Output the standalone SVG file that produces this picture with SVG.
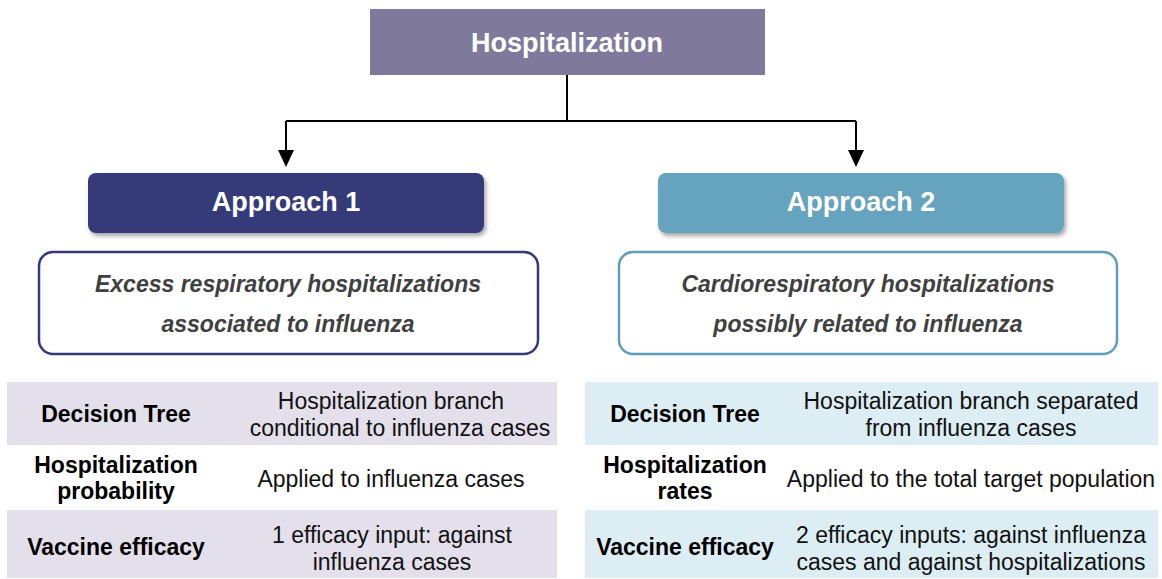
<svg xmlns="http://www.w3.org/2000/svg" width="1162" height="579" viewBox="0 0 1162 579">
<defs>
<style>
.t{font-family:"Liberation Sans",Arial,sans-serif;text-anchor:middle}
.w{fill:#ffffff;font-weight:bold;font-size:27px}
.d{fill:#404040;font-weight:bold;font-style:italic;font-size:23px}
.b{fill:#000000;font-weight:bold;font-size:23px}
.r{fill:#111111;font-size:23px}
.con{stroke:#000;stroke-width:2;fill:none}
</style>
<filter id="sh" x="-10%" y="-20%" width="120%" height="150%">
<feDropShadow dx="2" dy="3" stdDeviation="2" flood-color="#000" flood-opacity="0.35"/>
</filter>
</defs>
<g id="connectors">
<path class="con" d="M567,75 V121"/>
<path class="con" d="M286,121 H856"/>
<path class="con" d="M286,121 V150"/>
<path class="con" d="M856,121 V150"/>
<path d="M278,150 L294,150 L286,167 Z" fill="#000"/>
<path d="M848,150 L864,150 L856,167 Z" fill="#000"/>
</g>
<g id="hospitalization">
<rect x="370" y="9" width="395" height="66" fill="#7f7a9b"/>
<text class="t w" x="567" y="52">Hospitalization</text>
</g>
<g id="approach1">
<rect x="88" y="173" width="396" height="60" rx="8" fill="#363a78" filter="url(#sh)"/>
<text class="t w" x="286" y="211">Approach 1</text>
</g>
<g id="approach2">
<rect x="658" y="173" width="406" height="60" rx="8" fill="#66a3bf" filter="url(#sh)"/>
<text class="t w" x="861" y="211">Approach 2</text>
</g>
<g id="desc1">
<rect x="39" y="252" width="499" height="102" rx="14" fill="#fff" stroke="#363a78" stroke-width="2.5"/>
<text class="t d" x="288" y="292">Excess respiratory hospitalizations</text>
<text class="t d" x="288" y="332">associated to influenza</text>
</g>
<g id="desc2">
<rect x="619" y="252" width="498" height="102" rx="14" fill="#fff" stroke="#5f9eba" stroke-width="2.5"/>
<text class="t d" x="868" y="292">Cardiorespiratory hospitalizations</text>
<text class="t d" x="868" y="332">possibly related to influenza</text>
</g>
<g id="table1">
<rect x="7" y="382" width="550" height="63" fill="#e4e0eb"/>
<rect x="7" y="510" width="550" height="68" fill="#e4e0eb"/>
<text class="t b" x="116" y="422">Decision Tree</text>
<text class="t r" x="391" y="409">Hospitalization branch</text>
<text class="t r" x="400" y="436">conditional to influenza cases</text>
<text class="t b" x="116" y="473">Hospitalization</text>
<text class="t b" x="116" y="499">probability</text>
<text class="t r" x="391" y="487">Applied to influenza cases</text>
<text class="t b" x="116" y="555">Vaccine efficacy</text>
<text class="t r" x="392" y="543">1 efficacy input: against</text>
<text class="t r" x="392" y="570">influenza cases</text>
</g>
<g id="table2">
<rect x="585" y="382" width="573" height="63" fill="#dcedf3"/>
<rect x="585" y="510" width="573" height="68" fill="#dcedf3"/>
<text class="t b" x="685" y="422">Decision Tree</text>
<text class="t r" x="971" y="409">Hospitalization branch separated</text>
<text class="t r" x="971" y="436">from influenza cases</text>
<text class="t b" x="685" y="473">Hospitalization</text>
<text class="t b" x="685" y="499">rates</text>
<text class="t r" x="971" y="487">Applied to the total target population</text>
<text class="t b" x="685" y="555">Vaccine efficacy</text>
<text class="t r" x="971" y="543">2 efficacy inputs: against influenza</text>
<text class="t r" x="971" y="570">cases and against hospitalizations</text>
</g>
</svg>
